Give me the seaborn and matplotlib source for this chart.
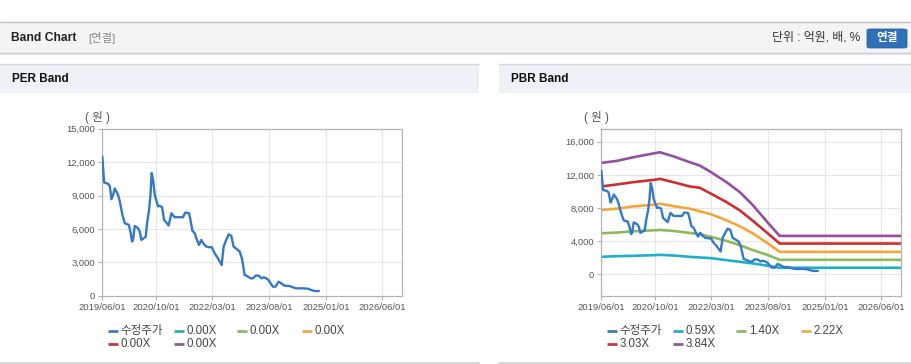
import matplotlib
matplotlib.use("Agg")
import numpy as np
import pandas as pd
import matplotlib.pyplot as plt
from matplotlib.patches import Rectangle, FancyBboxPatch
from matplotlib.lines import Line2D
from matplotlib.ticker import FuncFormatter
import matplotlib.dates as mdates
import seaborn as sns

# ---------------- data ----------------
price_dates = ["2019-06-01", "2019-06-18", "2019-07-24", "2019-08-08", "2019-08-24", "2019-09-08",
               "2019-09-23", "2019-10-23", "2019-11-08", "2019-12-02", "2019-12-23", "2020-01-29",
               "2020-02-13", "2020-02-28", "2020-03-08", "2020-03-23", "2020-04-23", "2020-05-08",
               "2020-05-23", "2020-06-13", "2020-07-02", "2020-07-14", "2020-08-01", "2020-08-13",
               "2020-08-25", "2020-09-07", "2020-09-22", "2020-10-22", "2020-11-06", "2020-11-28",
               "2020-12-16", "2021-01-06", "2021-01-27", "2021-02-21", "2021-03-23", "2021-04-23",
               "2021-06-07", "2021-06-28", "2021-08-01", "2021-08-13", "2021-08-31", "2021-09-22",
               "2021-10-07", "2021-10-31", "2021-11-21", "2021-12-13", "2022-01-06", "2022-02-05",
               "2022-02-26", "2022-03-23", "2022-04-22", "2022-05-26", "2022-06-13", "2022-07-07",
               "2022-07-29", "2022-08-22", "2022-09-12", "2022-10-13", "2022-11-06", "2022-11-27",
               "2022-12-22", "2023-01-12", "2023-02-14", "2023-03-08", "2023-04-01", "2023-05-01",
               "2023-05-23", "2023-06-13", "2023-07-07", "2023-07-28", "2023-08-16", "2023-09-06",
               "2023-09-30", "2023-10-28", "2023-11-21", "2023-12-21", "2024-02-05", "2024-03-06",
               "2024-04-06", "2024-06-06", "2024-07-21", "2024-08-21", "2024-09-20", "2024-10-29"]
price_values = [12510, 10170, 10050, 9870, 8670, 9060, 9630, 9060, 8460, 7260, 6510, 6360,
                5760, 4860, 5010, 6270, 6060, 5760, 5010, 5160, 5310, 6510, 7710, 8910,
                11010, 10410, 9060, 8010, 8070, 7950, 6810, 6570, 6300, 7410, 7050, 7050,
                7050, 7470, 7410, 6870, 5850, 5610, 5160, 4560, 5010, 4650, 4410, 4350,
                4350, 3810, 3360, 2760, 4410, 5010, 5520, 5370, 4410, 4170, 3960, 3360,
                1860, 1770, 1560, 1560, 1800, 1800, 1560, 1650, 1560, 1410, 1110, 810,
                810, 1260, 1110, 900, 870, 750, 660, 660, 630, 510, 420, 420]

band_dates = ["2019-06-01", "2019-10-19", "2020-03-19", "2020-09-26", "2020-11-17", "2021-03-19",
              "2021-08-18", "2021-11-17", "2022-02-28", "2022-07-18", "2022-11-17", "2023-03-18",
              "2023-08-02", "2023-11-16", "2026-11-28"]
band_059 = [2120, 2200, 2240, 2320, 2360, 2280, 2120, 2040, 1960, 1720, 1520, 1320, 1040, 800, 800]
band_140 = [4960, 5040, 5200, 5320, 5360, 5240, 5000, 4840, 4520, 4040, 3520, 2920, 2320, 1760, 1760]
band_222 = [7760, 7920, 8200, 8400, 8520, 8240, 7920, 7600, 7240, 6520, 5800, 4920, 3720, 2720, 2720]
band_303 = [10600, 10840, 11120, 11400, 11520, 11120, 10600, 10440, 9720, 8720, 7720, 6440, 4920, 3720, 3720]
band_384 = [13440, 13680, 14120, 14600, 14720, 14240, 13520, 13120, 12320, 11120, 9920, 8320, 6200, 4640, 4640]

price_label = "수정주가"
pbr_labels = ["0.59X", "1.40X", "2.22X", "3.03X", "3.84X"]
per_labels = ["0.00X", "0.00X", "0.00X", "0.00X", "0.00X"]

x_ticks = ["2019-06-01", "2020-10-01", "2022-03-01", "2023-08-01", "2025-01-01", "2026-06-01"]
x_range = ["2019-06-01", "2026-11-28"]
per_yticks = [0, 3000, 6000, 9000, 12000, 15000]
per_ylim = [0, 15000]
pbr_yticks = [0, 4000, 8000, 12000, 16000]
pbr_ylim = [-2566, 17564]

price_color = "#3478c8"
band_colors = ["#1fb0c8", "#8cbb5a", "#f3a63a", "#cc2f2f", "#944fa0"]
legend_colors = ["#4a78b4", "#30aabb", "#92b468", "#e8b04d", "#c0393b", "#8e5898"]

# ---------------- style ----------------
sns.set_theme(style="white")
plt.rcParams["font.family"] = ["Liberation Sans", "Noto Sans CJK KR", "DejaVu Sans"]

W, H = 912, 364
fig = plt.figure(figsize=(W / 100, H / 100), dpi=100)
fig.patch.set_facecolor("white")


def fx(x):
    return x / W


def fy(y):
    return 1 - y / H


def rect(x0, y0, x1, y1, fc, z=0):
    fig.patches.append(Rectangle((fx(x0), fy(y1)), (x1 - x0) / W, (y1 - y0) / H,
                                 transform=fig.transFigure, facecolor=fc, edgecolor="none", zorder=z))


def hline(x0, x1, y, color, lw=1.0):
    fig.add_artist(Line2D([fx(x0), fx(x1)], [fy(y), fy(y)], transform=fig.transFigure,
                          color=color, lw=lw, zorder=1))


# header bar
rect(0, 22, W, 52.5, "#f4f4f4")
hline(0, W, 22, "#c4c4c4", 1.0)
hline(0, W, 52.8, "#c8c8c8", 1.0)
hline(0, W, 54, "#e6e6e6", 1.0)
fig.text(fx(11), fy(38), "Band Chart", weight="bold", size=8.7, va="center", color="#222222")
fig.text(fx(88), fy(38), "[연결]", size=8.2, va="center", color="#8a8a8a")
fig.text(fx(860), fy(38), "단위 : 억원, 배, %", size=8.6, va="center", ha="right", color="#333333")
fig.patches.append(FancyBboxPatch((fx(867), fy(48)), 40 / W, 19 / H,
                                  boxstyle="round,pad=0,rounding_size=0.004",
                                  transform=fig.transFigure, facecolor="#2f70b6",
                                  edgecolor="#2a64a4", lw=0.6, zorder=2))
fig.text(fx(887), fy(38.3), "연결", size=8.4, weight="bold", color="white", ha="center",
         va="center", zorder=3)

# panel headers
for (x0, x1, title) in [(0, 479, "PER Band"), (499, W, "PBR Band")]:
    rect(x0, 64, x1, 92.5, "#eef2f7")
    hline(x0, x1, 64, "#d6dae0", 1.0)
    hline(x0, x1, 362.6, "#cfcfcf", 1.2)
    fig.text(fx(x0 + 11.6), fy(79.5), title, weight="bold", size=8.5, va="center", color="#111111")

# ---------------- charts ----------------
price_df = pd.DataFrame({"date": pd.to_datetime(price_dates), "price": price_values})
band_series = [band_059, band_140, band_222, band_303, band_384]
band_df = pd.concat([pd.DataFrame({"date": pd.to_datetime(band_dates), "value": vals, "band": lab})
                     for vals, lab in zip(band_series, pbr_labels)], ignore_index=True)

ax_left_px = [102.3, 601.3]
axes = []
for i, left in enumerate(ax_left_px):
    ax = fig.add_axes([fx(left), fy(295.7), 299.7 / W, 167.0 / H])
    axes.append(ax)
    ax.set_facecolor("white")
    if i == 1:
        sns.lineplot(data=band_df, x="date", y="value", hue="band", hue_order=pbr_labels,
                     palette=dict(zip(pbr_labels, band_colors)), ax=ax, lw=1.9,
                     legend=False, sort=False, zorder=2)
    sns.lineplot(data=price_df, x="date", y="price", ax=ax, color=price_color, lw=1.7,
                 legend=False, zorder=3)

    ax.set_xlim(pd.to_datetime(x_range[0]), pd.to_datetime(x_range[1]))
    ax.set_xticks(pd.to_datetime(x_ticks))
    ax.xaxis.set_major_formatter(mdates.DateFormatter("%Y/%m/%d"))
    if i == 0:
        ax.set_ylim(*per_ylim)
        ax.set_yticks(per_yticks)
    else:
        ax.set_ylim(*pbr_ylim)
        ax.set_yticks(pbr_yticks)
    ax.yaxis.set_major_formatter(FuncFormatter(lambda v, p: f"{int(v):,}"))
    ax.set_xlabel("")
    ax.set_ylabel("")
    ax.grid(True, color="#e6e6e6", lw=0.8)
    ax.set_axisbelow(True)
    for s in ax.spines.values():
        s.set_color("#b4b4b4")
        s.set_linewidth(0.9)
        s.set_visible(True)
    ax.tick_params(axis="both", which="major", length=3, width=0.8, color="#b4b4b4",
                   labelsize=6.8, labelcolor="#555555", pad=2, direction="out")
    ax.tick_params(axis="x", bottom=True)
    ax.tick_params(axis="y", left=True)
    fig.text(fx(left - 5), fy(117.5), "( 원 )", size=8.3, color="#555555", ha="center", va="center")

    # legend (manual, laid out like the page)
    labels = [price_label] + (per_labels if i == 0 else pbr_labels)
    col_off = [5.4, 71.4, 134.4, 199.4]
    for k, lab in enumerate(labels):
        row, col = divmod(k, 4)
        yy = 330.7 + row * 13.3
        x0 = left + col_off[col]
        fig.add_artist(Line2D([fx(x0), fx(x0 + 10.6)], [fy(yy), fy(yy)], transform=fig.transFigure,
                              color=legend_colors[k], lw=2.0, solid_capstyle="butt"))
        fig.text(fx(x0 + 13.2), fy(yy), lab, size=8.3, color="#444444", va="center", ha="left")

fig.savefig("out.png", dpi=100, facecolor="white")
